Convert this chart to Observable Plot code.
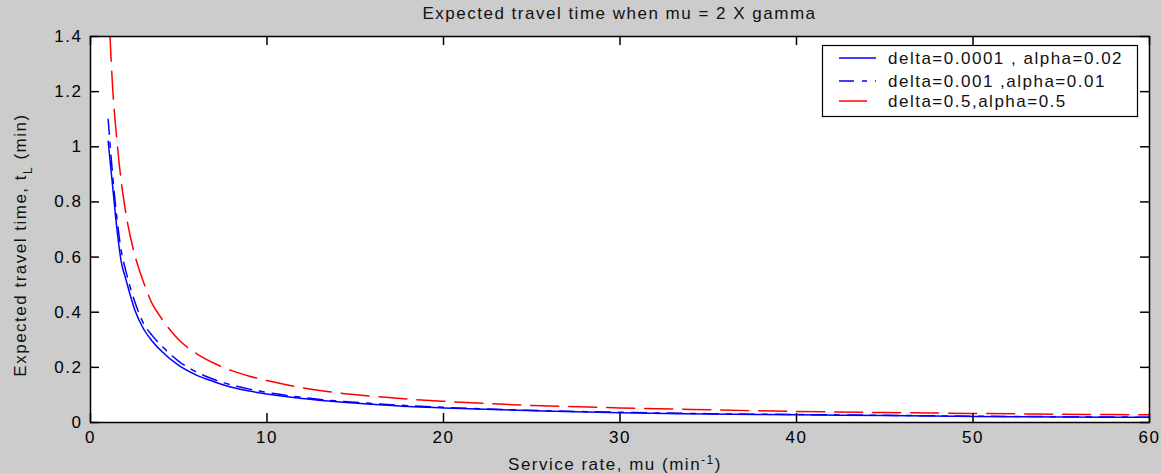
<!DOCTYPE html>
<html><head><meta charset="utf-8">
<script src="https://cdn.jsdelivr.net/npm/d3@7"></script>
<script src="https://cdn.jsdelivr.net/npm/@observablehq/plot@0.6"></script>
<style>
html,body{margin:0;padding:0;background:#cccccc;}
#wrap{width:1161px;height:473px;position:relative;overflow:hidden;font-family:"Liberation Sans",Arial,sans-serif;}
#title{position:absolute;left:90px;width:1059px;top:4px;text-align:center;font-size:17px;letter-spacing:1.5px;color:#111;white-space:nowrap;}
#chart{position:absolute;left:0;top:28px;}
</style></head><body>
<div id="wrap"><div id="title">Expected travel time when mu = 2 X gamma</div><div id="chart"></div></div>
<script>
// Service rate mu (min^-1)
const mu = [1, 1.25, 1.5, 1.75, 2, 2.5, 3, 3.5, 4, 5, 6, 7, 8, 9, 10, 12, 14, 16, 18, 20, 25, 30, 35, 40, 45, 50, 55, 60];
// delta=0.0001, alpha=0.02 (blue solid)
const tSolid = [1.02, 0.86, 0.70, 0.58, 0.52, 0.41, 0.34, 0.295, 0.26, 0.207, 0.172, 0.148, 0.128, 0.114, 0.103, 0.087, 0.075, 0.066, 0.058, 0.053, 0.043, 0.035, 0.031, 0.028, 0.025, 0.022, 0.020, 0.019];
// delta=0.001, alpha=0.01 (blue dash-dot)
const tDashDot = [1.10, 0.90, 0.74, 0.62, 0.55, 0.44, 0.36, 0.315, 0.28, 0.222, 0.183, 0.156, 0.136, 0.121, 0.109, 0.091, 0.078, 0.069, 0.061, 0.055, 0.044, 0.037, 0.032, 0.029, 0.026, 0.023, 0.021, 0.019];
// delta=0.5, alpha=0.5 (red dashed)
const tRed = [1.55, 1.22, 1.02, 0.87, 0.76, 0.61, 0.51, 0.43, 0.38, 0.30, 0.25, 0.215, 0.188, 0.168, 0.152, 0.126, 0.108, 0.095, 0.085, 0.077, 0.062, 0.053, 0.046, 0.040, 0.036, 0.033, 0.030, 0.028];
const seriesNames = ["delta=0.0001 , alpha=0.02", "delta=0.001 ,alpha=0.01", "delta=0.5,alpha=0.5"];
const xTicks = [0, 10, 20, 30, 40, 50, 60];
const yTicks = [0, 0.2, 0.4, 0.6, 0.8, 1.0, 1.2, 1.4];
const yTickLabels = ["0", "0.2", "0.4", "0.6", "0.8", "1", "1.2", "1.4"];

const W = 1161, H = 445, mT = 8, mB = 51, mL = 90, mR = 12;
const plotH = H - mT - mB, plotW = W - mL - mR, tick = 9;

const rows = (ys) => mu.map((x, i) => ({x, y: ys[i]}));
const styles = [
  {data: tSolid, stroke: "#0000ff", dash: null},
  {data: tDashDot, stroke: "#0000ff", dash: "15,8,5,8"},
  {data: tRed, stroke: "#ff0000", dash: "28,10"}
];

const chart = Plot.plot({
  width: W, height: H,
  marginTop: mT, marginBottom: mB, marginLeft: mL, marginRight: mR,
  style: {fontFamily: '"Liberation Sans", Arial, sans-serif', fontSize: "17px", color: "#000", background: "transparent", letterSpacing: "1.5px"},
  x: {domain: [0, 60]},
  y: {domain: [0, 1.4]},
  marks: [
    Plot.frame({fill: "white", stroke: null}),
    ...styles.map(s => Plot.line(rows(s.data), {x: "x", y: "y", stroke: s.stroke, strokeWidth: 1.5, strokeDasharray: s.dash, curve: "monotone-x", clip: true})),
    Plot.ruleX(xTicks, {x: d => d, insetTop: plotH - tick, stroke: "#000", strokeWidth: 1.5}),
    Plot.ruleX(xTicks, {x: d => d, insetBottom: plotH - tick, stroke: "#000", strokeWidth: 1.5}),
    Plot.ruleY(yTicks, {y: d => d, insetRight: plotW - tick, stroke: "#000", strokeWidth: 1.5}),
    Plot.ruleY(yTicks, {y: d => d, insetLeft: plotW - tick, stroke: "#000", strokeWidth: 1.5}),
    Plot.frame({stroke: "#000", strokeWidth: 1.5}),
    Plot.axisX({ticks: xTicks, tickSize: 0, tickPadding: 8, label: null, fill: "#000"}),
    Plot.axisY({ticks: yTicks, tickFormat: (d, i) => yTickLabels[i], tickSize: 0, tickPadding: 8, label: null, fill: "#000"})
  ]
});
document.getElementById("chart").appendChild(chart);

const svg = d3.select(chart);
const font = '"Liberation Sans", Arial, sans-serif';
// x label
const xl = svg.append("text").attr("x", 615).attr("y", 442).attr("text-anchor", "middle")
  .attr("font-family", font).attr("font-size", 17).attr("letter-spacing", "1.5px").attr("fill", "#111");
xl.append("tspan").text("Service rate, mu (min");
xl.append("tspan").attr("dy", -6).attr("font-size", 12).text("-1");
xl.append("tspan").attr("dy", 6).text(")");
// y label
const yl = svg.append("text").attr("transform", "translate(26,217) rotate(-90)").attr("text-anchor", "middle")
  .attr("font-family", font).attr("font-size", 17).attr("letter-spacing", "1.5px").attr("fill", "#111");
yl.append("tspan").text("Expected travel time, t");
yl.append("tspan").attr("dy", 6).attr("font-size", 12).text("L");
yl.append("tspan").attr("dy", -6).text(" (min)");
// legend
const lg = svg.append("g");
lg.append("rect").attr("x", 822.5).attr("y", 17.5).attr("width", 315).attr("height", 71)
  .attr("fill", "white").attr("stroke", "#000").attr("stroke-width", 1.2);
const ly = [30, 53, 73];
styles.forEach((s, i) => {
  lg.append("line").attr("x1", 839).attr("x2", 876).attr("y1", ly[i]).attr("y2", ly[i])
    .attr("stroke", s.stroke).attr("stroke-width", 1.5).attr("stroke-dasharray", s.dash);
  lg.append("text").attr("x", 888).attr("y", ly[i] + 6).attr("text-anchor", "start").attr("font-family", font).attr("font-size", 17)
    .attr("letter-spacing", "1.5px").attr("fill", "#111").text(seriesNames[i]);
});
</script>
</body></html>
